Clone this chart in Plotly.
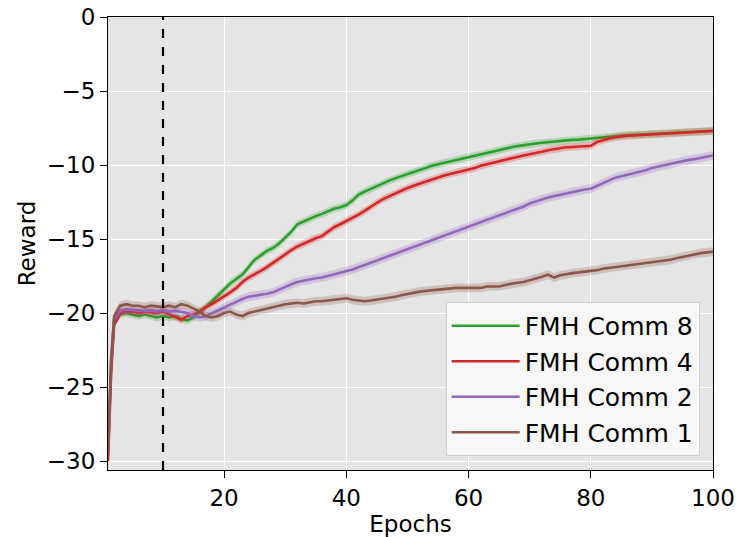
import plotly.graph_objects as go

# Epoch positions (fine step at the start where the curves rise steeply)
epochs = [1, 1.5, 2] + list(range(3, 101))

comm8 = [-29.6, -23.8, -20.7,
         -20.1, -20.0, -20.1, -20.2, -20.1, -20.2, -20.3, -20.2, -20.3, -20.2,
         -20.4, -20.5, -20.3, -19.9, -19.6, -19.2, -18.8, -18.4, -18.0, -17.7,
         -17.4, -16.9, -16.4, -16.1, -15.8, -15.6, -15.3, -14.9, -14.5, -14.0,
         -13.8, -13.6, -13.45, -13.3, -13.1, -12.95, -12.85, -12.7, -12.4, -12.0,
         -11.8, -11.6, -11.4, -11.2, -11.05, -10.9, -10.75, -10.6, -10.5, -10.35,
         -10.2, -10.05, -9.95, -9.85, -9.75, -9.65, -9.55, -9.45, -9.35, -9.25,
         -9.15, -9.05, -8.95, -8.9, -8.8, -8.72, -8.65, -8.6, -8.55, -8.5,
         -8.45, -8.42, -8.38, -8.35, -8.3, -8.28, -8.25, -8.2, -8.15, -8.12,
         -8.08, -8.05, -8.0, -7.98, -7.95, -7.93, -7.9, -7.88, -7.85, -7.83,
         -7.8, -7.8, -7.78, -7.75, -7.75, -7.72, -7.7, -7.68]

comm4 = [-30.0, -24.2, -20.8,
         -20.0, -19.9, -19.9, -20.0, -19.9, -19.95, -20.0, -19.9, -20.1, -20.3,
         -20.45, -20.2, -20.1, -19.9, -19.6, -19.4, -19.15, -18.9, -18.6, -18.3,
         -17.9, -17.6, -17.4, -17.15, -16.9, -16.6, -16.3, -16.0, -15.75, -15.5,
         -15.3, -15.1, -14.95, -14.8, -14.5, -14.2, -14.0, -13.8, -13.6, -13.35,
         -13.1, -12.8, -12.55, -12.3, -12.1, -11.9, -11.75, -11.55, -11.4, -11.25,
         -11.1, -10.95, -10.8, -10.7, -10.6, -10.5, -10.45, -10.35, -10.2, -10.05,
         -9.95, -9.8, -9.7, -9.6, -9.5, -9.45, -9.35, -9.27, -9.2, -9.1,
         -9.0, -8.92, -8.85, -8.8, -8.78, -8.75, -8.72, -8.7, -8.45, -8.3,
         -8.2, -8.12, -8.05, -8.02, -8.0, -7.98, -7.95, -7.93, -7.92, -7.9,
         -7.88, -7.85, -7.83, -7.8, -7.78, -7.75, -7.72, -7.7]

comm2 = [-29.4, -23.4, -20.4,
         -19.8, -19.75, -19.8, -19.8, -19.85, -19.8, -19.9, -19.8, -19.9, -19.85,
         -19.9, -20.0, -20.2, -20.3, -20.2, -20.0, -19.8, -19.6, -19.4, -19.2,
         -19.05, -18.9, -18.85, -18.75, -18.7, -18.6, -18.4, -18.2, -18.05, -17.9,
         -17.8, -17.75, -17.65, -17.6, -17.5, -17.4, -17.3, -17.2, -17.05, -16.9,
         -16.75, -16.55, -16.4, -16.25, -16.1, -15.95, -15.8, -15.65, -15.5, -15.35,
         -15.2, -15.05, -14.9, -14.75, -14.6, -14.45, -14.3, -14.15, -14.0, -13.85,
         -13.7, -13.55, -13.4, -13.25, -13.1, -12.95, -12.8, -12.6, -12.45, -12.3,
         -12.2, -12.1, -12.0, -11.9, -11.8, -11.7, -11.65, -11.6, -11.4, -11.2,
         -11.0, -10.85, -10.75, -10.65, -10.55, -10.5, -10.35, -10.2, -10.1, -10.0,
         -9.9, -9.8, -9.7, -9.65, -9.6, -9.5, -9.45, -9.35]

comm1 = [-29.5, -23.2, -20.2,
         -19.5, -19.4, -19.5, -19.5, -19.6, -19.5, -19.55, -19.6, -19.5, -19.6,
         -19.4, -19.5, -19.7, -19.9, -20.2, -20.3, -20.2, -20.0, -19.9, -20.1,
         -20.2, -20.0, -19.9, -19.8, -19.7, -19.55, -19.45, -19.4, -19.35, -19.3,
         -19.35, -19.25, -19.2, -19.2, -19.15, -19.1, -19.05, -19.0, -19.1, -19.15,
         -19.2, -19.15, -19.1, -19.05, -19.0, -18.9, -18.8, -18.7, -18.6, -18.55,
         -18.5, -18.45, -18.4, -18.4, -18.35, -18.3, -18.3, -18.3, -18.25, -18.3,
         -18.2, -18.2, -18.2, -18.1, -18.0, -17.95, -17.9, -17.8, -17.7, -17.55,
         -17.4, -17.6, -17.45, -17.35, -17.3, -17.25, -17.2, -17.2, -17.1, -17.0,
         -16.95, -16.9, -16.85, -16.8, -16.7, -16.65, -16.6, -16.6, -16.55, -16.5,
         -16.4, -16.3, -16.2, -16.1, -16.0, -15.95, -15.9, -15.85]

series_names = ["FMH Comm 8", "FMH Comm 4", "FMH Comm 2", "FMH Comm 1"]
series_values = [comm8, comm4, comm2, comm1]
series_std = [0.25, 0.25, 0.3, 0.3]
series_colors = ["#2ca02c", "#d62728", "#9467bd", "#8c564b"]
band_colors = ["rgba(44,160,44,0.25)", "rgba(214,39,40,0.25)",
               "rgba(148,103,189,0.25)", "rgba(140,86,75,0.25)"]

dashed_epoch = 10
x_ticks = [20, 40, 60, 80, 100]
y_ticks = [0, -5, -10, -15, -20, -25, -30]

fig = go.Figure()
for name, vals, sd, col, bcol in zip(series_names, series_values, series_std,
                                     series_colors, band_colors):
    upper = [v + sd for v in vals]
    lower = [v - sd for v in vals]
    fig.add_trace(go.Scatter(x=epochs, y=upper, mode="lines", line=dict(width=0),
                             legendgroup=name, showlegend=False, hoverinfo="skip"))
    fig.add_trace(go.Scatter(x=epochs, y=lower, mode="lines", line=dict(width=0),
                             fill="tonexty", fillcolor=bcol, legendgroup=name,
                             showlegend=False, hoverinfo="skip"))
    fig.add_trace(go.Scatter(x=epochs, y=vals, mode="lines", name=name,
                             legendgroup=name,
                             line=dict(color=col, width=2.6)))

fig.add_shape(type="line", x0=dashed_epoch, x1=dashed_epoch, y0=0, y1=1,
              xref="x", yref="paper",
              line=dict(color="black", width=2.2, dash="dash"))

font = "DejaVu Sans, sans-serif"
fig.update_layout(
    width=737, height=537,
    margin=dict(l=108, r=24, t=17, b=67),
    paper_bgcolor="white",
    plot_bgcolor="#e5e5e5",
    font=dict(family=font, size=23, color="black"),
    showlegend=True,
    legend=dict(x=0.978, y=0.031, xanchor="right", yanchor="bottom",
                traceorder="normal",
                bgcolor="rgba(249,249,249,0.92)", bordercolor="#d0d0d0",
                borderwidth=1, font=dict(size=25, family=font),
                tracegroupgap=6, itemwidth=68),
    xaxis=dict(range=[1, 100], tickvals=x_ticks, showgrid=True,
               gridcolor="white", gridwidth=1.2, zeroline=False,
               showline=True, linecolor="black", linewidth=1.2, mirror=True,
               ticks="outside", ticklen=7, tickcolor="black", automargin=False,
               title=dict(text="Epochs", font=dict(size=23)),
               tickfont=dict(size=23)),
    yaxis=dict(range=[-30.6, 0], tickvals=y_ticks, showgrid=True,
               gridcolor="white", gridwidth=1.2, zeroline=False,
               showline=True, linecolor="black", linewidth=1.2, mirror=True,
               ticks="outside", ticklen=7, tickcolor="black", automargin=False,
               title=dict(text="Reward", font=dict(size=23), standoff=4),
               tickfont=dict(size=23)),
)

fig.write_html("out.html")
